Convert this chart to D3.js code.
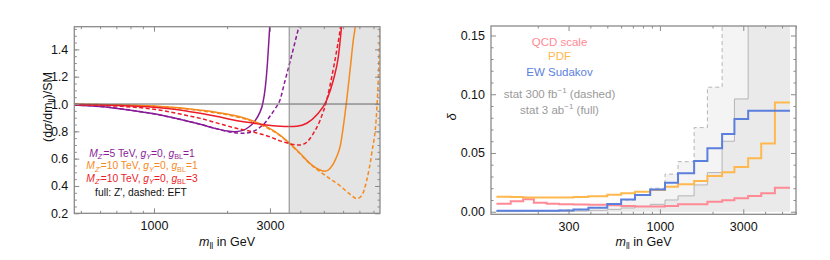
<!DOCTYPE html>
<html><head><meta charset="utf-8">
<script src="https://cdn.jsdelivr.net/npm/d3@7"></script>
<style>
body{margin:0;background:#fff;}
svg{font-family:"Liberation Sans", Arial, Helvetica, sans-serif;}
</style></head><body>
<svg id="c" width="830" height="260"></svg>
<script>
// ---------- LEFT PANEL DATA: (dσ/dm)/SM ----------
const massPurpleFull  = [470, 600, 800, 1000, 1300, 1550, 1800, 2000, 2150, 2300, 2450, 2600, 2720, 2800, 2870, 2930, 2990, 3030];
const ratioPurpleFull = [0.993, 0.982, 0.955, 0.928, 0.885, 0.852, 0.820, 0.802, 0.797, 0.805, 0.830, 0.875, 0.935, 1.00, 1.12, 1.30, 1.55, 1.70];
const massPurpleEFT   = [470, 600, 800, 1000, 1300, 1550, 1800, 2000, 2150, 2300, 2450, 2600, 2730, 2870, 3000, 3150, 3300, 3460, 3630, 3800, 3950, 4050];
const ratioPurpleEFT  = [0.993, 0.982, 0.955, 0.928, 0.885, 0.852, 0.820, 0.800, 0.790, 0.786, 0.790, 0.805, 0.830, 0.865, 0.910, 0.965, 1.03, 1.17, 1.31, 1.45, 1.57, 1.65];
const massRedFull     = [470, 700, 1000, 1300, 1550, 1800, 2100, 2560, 2900, 3300, 3600, 3870, 4250, 4670, 5140, 5470, 5735, 5920, 6050];
const ratioRedFull    = [0.997, 0.990, 0.976, 0.955, 0.932, 0.910, 0.885, 0.860, 0.846, 0.838, 0.836, 0.838, 0.859, 0.920, 1.03, 1.176, 1.346, 1.578, 1.75];
const massRedEFT      = [470, 700, 1000, 1320, 1550, 1810, 2120, 2560, 3000, 3300, 3620, 3750, 3990, 4250, 4520, 4820, 5140, 5390, 5650, 5870, 5980];
const ratioRedEFT     = [0.996, 0.985, 0.962, 0.922, 0.895, 0.862, 0.828, 0.795, 0.760, 0.730, 0.710, 0.703, 0.700, 0.720, 0.783, 0.880, 1.03, 1.20, 1.395, 1.578, 1.70];
const massOrangeFull  = [470, 700, 1000, 1300, 1550, 1800, 2120, 2560, 2900, 3300, 3620, 3990, 4380, 4820, 5060, 5310, 5650, 5850, 6010, 6210, 6410, 6610, 6740, 6820];
const ratioOrangeFull = [0.998, 0.994, 0.985, 0.970, 0.955, 0.940, 0.918, 0.876, 0.834, 0.773, 0.712, 0.639, 0.566, 0.517, 0.508, 0.530, 0.615, 0.70, 0.834, 1.03, 1.25, 1.47, 1.578, 1.70];
const massOrangeEFT   = [470, 700, 1000, 1300, 1550, 1800, 2120, 2560, 2900, 3300, 3620, 3990, 4380, 4820, 5310, 5840, 6400, 6830, 7160, 7500, 7870, 8250, 8380, 8510];
const ratioOrangeEFT  = [0.998, 0.993, 0.983, 0.967, 0.951, 0.935, 0.912, 0.870, 0.828, 0.768, 0.708, 0.636, 0.562, 0.505, 0.452, 0.400, 0.340, 0.308, 0.330, 0.440, 0.640, 0.950, 1.20, 1.55];
const excludedFrom = 3600;
const leftXMajor = [1000, 3000];
const leftXMinor = [500, 600, 700, 800, 900, 2000, 4000, 5000, 6000, 7000, 8000];
const leftYMajor = [0.2, 0.4, 0.6, 0.8, 1.0, 1.2, 1.4];

// ---------- RIGHT PANEL DATA: δ per bin ----------
const binEdges = [116, 140, 165, 190, 225, 265, 320, 390, 500, 600, 720, 880, 1070, 1270, 1570, 1870, 2270, 2670, 3200, 3800, 4550, 5550];
const deltaQCD   = [0.0068, 0.0090, 0.0106, 0.0076, 0.0068, 0.0064, 0.0062, 0.0060, 0.0055, 0.0048, 0.0045, 0.0045, 0.0049, 0.0063, 0.0063, 0.0085, 0.0097, 0.0114, 0.0134, 0.0157, 0.0205];
const deltaPDF   = [0.0128, 0.0125, 0.0122, 0.0120, 0.0120, 0.0121, 0.0125, 0.0132, 0.0145, 0.0158, 0.0170, 0.0185, 0.0213, 0.0233, 0.0262, 0.0304, 0.0336, 0.0380, 0.0455, 0.0580, 0.0930];
const deltaEW    = [0.0008, 0.0008, 0.0008, 0.0008, 0.0008, 0.0010, 0.0018, 0.0034, 0.0066, 0.0105, 0.0142, 0.0190, 0.0247, 0.0327, 0.0432, 0.0540, 0.0662, 0.0790, 0.0860, 0.0860, 0.0860];
const deltaStat300 = [0.0003, 0.0004, 0.0005, 0.0007, 0.0010, 0.0014, 0.0020, 0.0037, 0.0062, 0.0100, 0.0140, 0.0200, 0.0320, 0.0426, 0.0716, 0.1060, 0.190, 0.300, 0.600, 1.20, 2.50];
const deltaStat3000 = [0.0001, 0.0001, 0.0002, 0.0002, 0.0003, 0.0004, 0.0006, 0.0012, 0.0020, 0.0032, 0.0045, 0.0063, 0.0100, 0.0135, 0.0228, 0.0333, 0.0600, 0.0960, 0.190, 0.380, 0.800];
const rightXMajor = [300, 1000, 3000];
const rightXMinor = [200, 400, 500, 600, 700, 800, 900, 2000, 4000, 5000, 6000];
const rightYMajor = [0, 0.05, 0.10, 0.15];

// ---------- COLOURS ----------
const cPurple = "#8a1b97", cOrange = "#f58a1f", cRed = "#ec1c2a";
const cQCD = "#ff8a95", cPDF = "#ffb84d", cEW = "#5b7fdc", cStat = "#b5b5b5";

const svg = d3.select("#c");

function rich(g, x, y, parts, opts) {
  const t = g.append("text").attr("x", x).attr("y", y)
    .attr("text-anchor", opts.anchor || "middle")
    .attr("font-size", opts.size).attr("fill", opts.fill || "#000");
  if (opts.transform) t.attr("transform", opts.transform);
  let shift = 0;
  parts.forEach(([s, st]) => {
    const sp = t.append("tspan").text(s);
    let target = 0;
    if (st.includes("s")) { target = opts.size * 0.22; sp.attr("font-size", opts.size * 0.7); }
    if (st.includes("S")) { target = -opts.size * 0.4; sp.attr("font-size", opts.size * 0.7); }
    if (st.includes("i")) sp.attr("font-style", "italic");
    if (target - shift !== 0) sp.attr("dy", target - shift);
    shift = target;
  });
  return t;
}

function frame(g, x, y, xMaj, xMin, yMaj, yMin, yFmt) {
  const [xl, xr] = x.range();
  const [yb, yt] = y.range();
  const style = sel => {
    sel.select(".domain").remove();
    sel.selectAll("line").attr("stroke", "#8a8a8a").attr("stroke-width", 1);
    sel.selectAll("text").attr("font-size", 12.5).attr("fill", "#111")
       .attr("font-family", "Liberation Sans, Arial, sans-serif");
  };
  g.append("g").attr("transform", `translate(0,${yb})`)
    .call(d3.axisBottom(x).tickValues(xMaj).tickSize(-5).tickPadding(8).tickFormat(d3.format("d"))).call(style);
  g.append("g").attr("transform", `translate(0,${yb})`)
    .call(d3.axisBottom(x).tickValues(xMin).tickSize(-2.5).tickFormat("")).call(style);
  g.append("g").attr("transform", `translate(0,${yt})`)
    .call(d3.axisTop(x).tickValues(xMaj).tickSize(-5).tickFormat("")).call(style);
  g.append("g").attr("transform", `translate(0,${yt})`)
    .call(d3.axisTop(x).tickValues(xMin).tickSize(-2.5).tickFormat("")).call(style);
  g.append("g").attr("transform", `translate(${xl},0)`)
    .call(d3.axisLeft(y).tickValues(yMaj).tickSize(-5).tickPadding(6).tickFormat(yFmt)).call(style);
  g.append("g").attr("transform", `translate(${xl},0)`)
    .call(d3.axisLeft(y).tickValues(yMin).tickSize(-2.5).tickFormat("")).call(style);
  g.append("g").attr("transform", `translate(${xr},0)`)
    .call(d3.axisRight(y).tickValues(yMaj).tickSize(-5).tickFormat("")).call(style);
  g.append("g").attr("transform", `translate(${xr},0)`)
    .call(d3.axisRight(y).tickValues(yMin).tickSize(-2.5).tickFormat("")).call(style);
  g.append("rect").attr("x", xl).attr("y", yt).attr("width", xr - xl).attr("height", yb - yt)
    .attr("fill", "none").attr("stroke", "#8a8a8a").attr("stroke-width", 1.3);
}

// ================= LEFT PANEL =================
const xL = d3.scaleLog().domain([470, 8510]).range([74.3, 380]);
const yL = d3.scaleLinear().domain([0.2, 1.566]).range([213.3, 26.7]);
const gL = svg.append("g");
gL.append("clipPath").attr("id", "clipL").append("rect")
  .attr("x", 74.3).attr("y", 26.7).attr("width", 380 - 74.3).attr("height", 213.3 - 26.7);

gL.append("rect").attr("x", xL(excludedFrom)).attr("y", 26.7)
  .attr("width", 380 - xL(excludedFrom)).attr("height", 213.3 - 26.7).attr("fill", "#e4e4e4");

const plotL = gL.append("g").attr("clip-path", "url(#clipL)");
const lineL = d3.line().x(d => xL(d[0])).y(d => yL(d[1])).curve(d3.curveMonotoneX);
const curves = [
  [massPurpleFull, ratioPurpleFull, cPurple, null],
  [massPurpleEFT, ratioPurpleEFT, cPurple, "4,2.5"],
  [massOrangeFull, ratioOrangeFull, cOrange, null],
  [massOrangeEFT, ratioOrangeEFT, cOrange, "4,2.5"],
  [massRedFull, ratioRedFull, cRed, null],
  [massRedEFT, ratioRedEFT, cRed, "4,2.5"],
];
curves.forEach(([m, v, col, dash]) => {
  plotL.append("path").attr("d", lineL(m.map((d, i) => [d, v[i]])))
    .attr("fill", "none").attr("stroke", col).attr("stroke-width", 1.5)
    .attr("stroke-dasharray", dash);
});
plotL.append("line").attr("x1", 74.3).attr("x2", 380).attr("y1", yL(1)).attr("y2", yL(1))
  .attr("stroke", "#666").attr("stroke-width", 1);
plotL.append("line").attr("x1", xL(excludedFrom)).attr("x2", xL(excludedFrom)).attr("y1", 26.7).attr("y2", 213.3)
  .attr("stroke", "#888").attr("stroke-width", 1);

frame(gL, xL, yL, leftXMajor, leftXMinor, leftYMajor, d3.range(0.25, 1.56, 0.05), d3.format(".1f"));

const lgSize = 10.3;
const legL = [
  ["5", "1", cPurple, 156.8],
  ["10", "1", cOrange, 169.4],
  ["10", "3", cRed, 182.2],
];
legL.forEach(([M, gb, col, yy]) => {
  rich(gL, 142, yy, [["M", "i"], ["Z'", "is"], ["=" + M + " TeV, ", ""], ["g", "i"], ["Y", "is"], ["=0, ", ""], ["g", "i"], ["BL", "s"], ["=" + gb, ""]],
    {size: lgSize, fill: col});
});
rich(gL, 141, 195.5, [["full: Z', dashed: EFT", ""]], {size: lgSize, fill: "#111"});

rich(gL, 227, 246, [["m", "i"], ["ll", "s"], [" in GeV", ""]], {size: 12.5, fill: "#111"});
rich(gL, 0, 0, [["(d", ""], ["σ", "i"], ["/dm", ""], ["ll", "s"], [")/SM", ""]],
  {size: 12.5, fill: "#111", transform: "translate(52,107) rotate(-90)"});

// ================= RIGHT PANEL =================
const xR = d3.scaleLog().domain([108, 6010]).range([491, 796]);
const yR = d3.scaleLinear().domain([-0.0022, 0.1581]).range([214.3, 26]);
const gR = svg.append("g");
gR.append("clipPath").attr("id", "clipR").append("rect")
  .attr("x", 491).attr("y", 26).attr("width", 796 - 491).attr("height", 214.3 - 26);
const plotR = gR.append("g").attr("clip-path", "url(#clipR)");

const stepPts = vals => vals.map((v, i) => [binEdges[i], v]).concat([[binEdges[binEdges.length - 1], vals[vals.length - 1]]]);
const areaR = d3.area().x(d => xR(d[0])).y0(yR(0)).y1(d => yR(d[1])).curve(d3.curveStepAfter);
const lineR = d3.line().x(d => xR(d[0])).y(d => yR(d[1])).curve(d3.curveStepAfter);

plotR.append("path").attr("d", areaR(stepPts(deltaStat300))).attr("fill", "#f4f4f4");
plotR.append("path").attr("d", areaR(stepPts(deltaStat3000))).attr("fill", "#eaeaea");
plotR.append("path").attr("d", lineR(stepPts(deltaStat300))).attr("fill", "none")
  .attr("stroke", cStat).attr("stroke-width", 1).attr("stroke-dasharray", "4,3");
plotR.append("path").attr("d", lineR(stepPts(deltaStat3000))).attr("fill", "none")
  .attr("stroke", cStat).attr("stroke-width", 1);
[[deltaQCD, cQCD], [deltaPDF, cPDF], [deltaEW, cEW]].forEach(([vals, col]) => {
  plotR.append("path").attr("d", lineR(stepPts(vals))).attr("fill", "none")
    .attr("stroke", col).attr("stroke-width", 2);
});

frame(gR, xR, yR, rightXMajor, rightXMinor, rightYMajor, d3.range(0.01, 0.155, 0.01).filter(v => Math.abs(v * 20 - Math.round(v * 20)) > 1e-6), d3.format(".2f"));

const rgSize = 11.5, rgX = 559.5;
rich(gR, rgX, 45.5, [["QCD scale", ""]], {size: rgSize, fill: cQCD});
rich(gR, rgX, 60, [["PDF", ""]], {size: rgSize, fill: cPDF});
rich(gR, rgX, 76.3, [["EW Sudakov", ""]], {size: rgSize, fill: cEW});
rich(gR, rgX, 98, [["stat 300 fb", ""], ["−1", "S"], [" (dashed)", ""]], {size: rgSize, fill: "#9a9a9a"});
rich(gR, rgX, 114, [["stat 3 ab", ""], ["−1", "S"], [" (full)", ""]], {size: rgSize, fill: "#9a9a9a"});

rich(gR, 643.5, 246, [["m", "i"], ["ll", "s"], [" in GeV", ""]], {size: 12.5, fill: "#111"});
rich(gR, 0, 0, [["δ", "i"]], {size: 13, fill: "#111", transform: "translate(456,117) rotate(-90)"});
</script>
</body></html>
